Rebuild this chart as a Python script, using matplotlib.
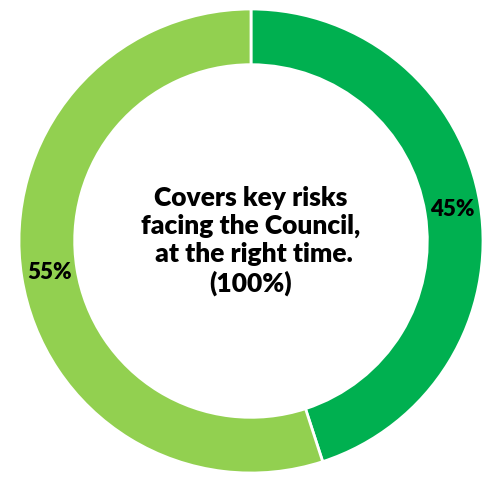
import matplotlib
matplotlib.use("Agg")
import matplotlib.pyplot as plt

# data
labels = ["Covers key risks", "Other"]
values = [45, 55]
colors = ["#00B050", "#92D050"]
center_text = "Covers key risks\nfacing the Council,\n at the right time.\n(100%)"

W, H, DPI = 500, 484, 100
CX, CY, R = 251, 243, 232   # pixel centre (from bottom) and outer radius

fig = plt.figure(figsize=(W / DPI, H / DPI), dpi=DPI)
ax = fig.add_axes([0, 0, 1, 1])

wedges, _, autotexts = ax.pie(
    values, colors=colors, startangle=90, counterclock=False,
    radius=1.0, autopct=lambda p: f"{p:.0f}%", pctdistance=0.88,
    wedgeprops=dict(width=0.24, edgecolor="white", linewidth=2),
    textprops=dict(fontsize=16, fontweight="heavy", color="black",
                   family="Lato"))

ax.text(0.0, 0.0, center_text, ha="center", va="center",
        fontsize=19, fontweight="heavy", family="Lato",
        linespacing=1.2, color="black")

ax.set_xlim(-CX / R, (W - CX) / R)
ax.set_ylim(-CY / R, (H - CY) / R)
ax.set_aspect("equal")
ax.axis("off")

fig.savefig("out.png", dpi=DPI, facecolor="white")
